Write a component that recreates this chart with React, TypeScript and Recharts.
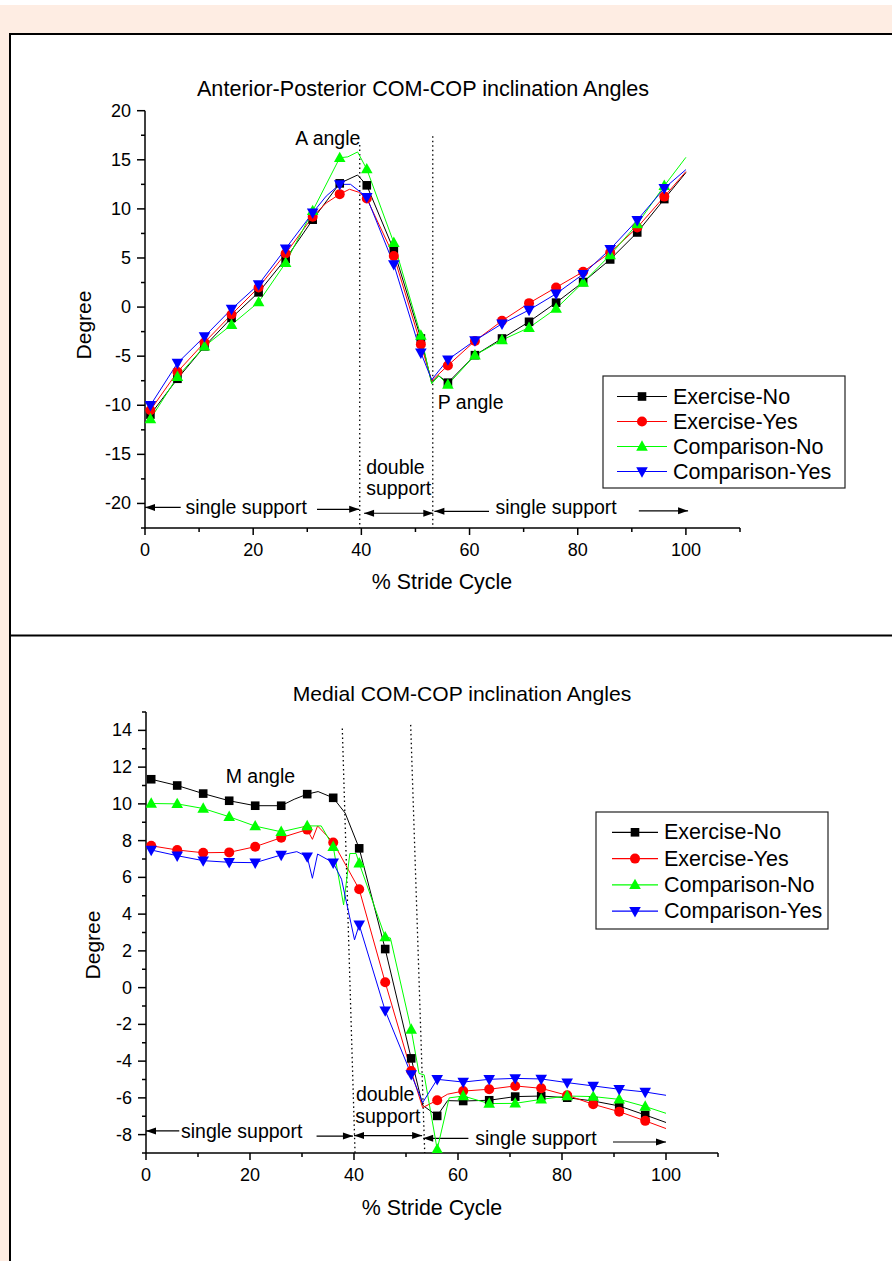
import React from 'react';
import { LineChart, Line, XAxis, YAxis, ReferenceLine, ReferenceDot } from 'recharts';

// ---------- shared ----------
const MARKER_X = [1, 6, 11, 16, 21, 26, 31, 36, 41, 46, 51, 56, 61, 66, 71, 76, 81, 86, 91, 96];
const SERIES_NAMES = ['Exercise-No', 'Exercise-Yes', 'Comparison-No', 'Comparison-Yes'];
const SERIES_COLORS = ['#000000', '#FF0000', '#00FF00', '#0000FF'];
const SERIES_SHAPES = ['square', 'circle', 'triangle', 'triangleDown'];
const X_TICKS = [0, 10, 20, 30, 40, 50, 60, 70, 80, 90, 100, 110];

// ---------- Anterior-Posterior chart ----------
const AP_TITLE = 'Anterior-Posterior COM-COP inclination Angles';
const AP_Y_TICKS = [-22.5, -20, -17.5, -15, -12.5, -10, -7.5, -5, -2.5, 0, 2.5, 5, 7.5, 10, 12.5, 15, 17.5, 20];
const apExerciseNo: [number, number][] = [
  [1, -10.95], [6, -7.3], [11, -4.0], [16, -1.1], [21, 1.5], [26, 4.9], [31, 8.9], [36, 12.6], [39.3, 13.45],
  [41, 12.4], [46, 5.8], [51, -3.2], [53, -7.7], [54.3, -7.0], [56, -7.7], [61, -4.9], [66, -3.2], [71, -1.5],
  [76, 0.45], [81, 2.55], [86, 4.85], [91, 7.6], [96, 11.0], [100, 13.7],
];
const apExerciseYes: [number, number][] = [
  [1, -10.5], [6, -6.6], [11, -3.6], [16, -0.75], [21, 2.0], [26, 5.45], [31, 9.2], [33.5, 10.6], [36, 11.5],
  [37.8, 12.0], [39.5, 11.7], [41, 11.05], [46, 5.2], [51, -3.8], [53, -7.5], [56, -5.95], [61, -3.45],
  [66, -1.4], [71, 0.4], [76, 2.0], [81, 3.6], [86, 5.55], [91, 8.1], [96, 11.25], [100, 13.8],
];
const apComparisonNo: [number, number][] = [
  [1, -11.4], [6, -7.1], [11, -4.0], [16, -1.8], [21, 0.5], [26, 4.5], [31, 9.8], [36, 15.2], [37.5, 15.3],
  [39.3, 15.8], [41, 14.05], [46, 6.55], [51, -2.9], [53, -7.8], [54.3, -7.0], [56, -7.9], [61, -4.9],
  [66, -3.35], [71, -2.1], [76, -0.15], [81, 2.5], [86, 5.3], [91, 8.45], [96, 12.35], [100, 15.25],
];
const apComparisonYes: [number, number][] = [
  [1, -10.0], [6, -5.7], [11, -3.0], [16, -0.2], [21, 2.3], [26, 5.95], [31, 9.6], [33.5, 11.3], [36, 12.5],
  [38, 12.5], [41, 11.2], [46, 4.35], [51, -4.65], [53, -7.4], [56, -5.35], [61, -3.4], [66, -1.7], [71, -0.3],
  [76, 1.35], [81, 3.35], [86, 5.9], [91, 8.85], [96, 12.1], [100, 14.0],
];
const AP_TEXTS: { x: number; y: number; text: string }[] = [
  { x: 33.8, y: 17.2, text: 'A angle' },
  { x: 60.2, y: -9.7, text: 'P angle' },
  { x: 46.3, y: -16.25, text: 'double' },
  { x: 46.9, y: -18.4, text: 'support' },
  { x: 18.7, y: -20.35, text: 'single support' },
  { x: 76, y: -20.4, text: 'single support' },
];
const AP_ARROWS: { x1: number; y1: number; x2: number; y2: number; both?: boolean }[] = [
  { x1: 6.6, y1: -20.4, x2: 0, y2: -20.4 },
  { x1: 31.8, y1: -20.6, x2: 39.6, y2: -20.6 },
  { x1: 40.5, y1: -21.0, x2: 53.3, y2: -21.0, both: true },
  { x1: 63.6, y1: -20.8, x2: 53.5, y2: -20.8 },
  { x1: 91.3, y1: -20.75, x2: 100.4, y2: -20.75 },
];
const AP_DOTTED: { x1: number; y1: number; x2: number; y2: number }[] = [
  { x1: 39.7, y1: 16.5, x2: 39.7, y2: -22.5 },
  { x1: 53.2, y1: 17.4, x2: 53.2, y2: -22.5 },
];

// ---------- Medial chart ----------
const ML_TITLE = 'Medial COM-COP inclination Angles';
const ML_Y_TICKS = [-9, -8, -7, -6, -5, -4, -3, -2, -1, 0, 1, 2, 3, 4, 5, 6, 7, 8, 9, 10, 11, 12, 13, 14, 15];
const mlExerciseNo: [number, number][] = [
  [1, 11.34], [6, 11.0], [11, 10.56], [16, 10.17], [21, 9.9], [26, 9.9], [28.5, 10.25], [31, 10.53], [33.1, 10.67],
  [36, 10.33], [38.3, 9.5], [41, 7.58], [46, 2.1], [51, -3.85], [53.2, -6.4], [56, -6.98], [58, -6.15], [61, -6.17],
  [66, -6.13], [71, -5.93], [76, -5.9], [81, -5.99], [86, -6.17], [91, -6.44], [96, -6.93], [100, -7.34],
];
const mlExerciseYes: [number, number][] = [
  [1, 7.72], [6, 7.49], [11, 7.34], [16, 7.36], [21, 7.67], [26, 8.16], [31, 8.6], [32, 8.07], [33, 8.8],
  [36, 7.9], [41, 5.35], [46, 0.29], [51, -4.54], [53.2, -6.53], [56, -6.13], [58, -5.8], [61, -5.63],
  [66, -5.53], [71, -5.35], [76, -5.48], [81, -5.86], [86, -6.35], [91, -6.75], [96, -7.25], [100, -7.67],
];
const mlComparisonNo: [number, number][] = [
  [1, 10.02], [6, 10.0], [11, 9.75], [16, 9.3], [21, 8.79], [26, 8.48], [31, 8.8], [33.7, 8.8], [36, 7.67],
  [38, 4.5], [39.2, 7.3], [40.4, 7.3], [41, 6.77], [46, 2.75], [47, 2.7], [51, -2.28], [52.5, -4.67],
  [53.5, -4.75], [56, -8.8], [58.3, -6.0], [61, -5.9], [66, -6.31], [71, -6.3], [76, -6.08], [81, -5.9],
  [86, -5.93], [91, -6.08], [96, -6.47], [100, -6.84],
];
const mlComparisonYes: [number, number][] = [
  [1, 7.49], [6, 7.18], [11, 6.91], [16, 6.82], [21, 6.8], [26, 7.22], [29, 7.4], [31, 7.13], [32, 5.95],
  [33, 7.27], [36, 6.8], [37.6, 5.9], [40.1, 2.6], [41, 3.42], [46, -1.25], [51, -4.72], [53.2, -6.26],
  [56, -4.99], [61, -5.14], [66, -4.99], [71, -4.94], [76, -4.97], [81, -5.17], [86, -5.35], [91, -5.53],
  [96, -5.68], [100, -5.86],
];
const ML_TEXTS: { x: number; y: number; text: string }[] = [
  { x: 22.0, y: 11.5, text: 'M angle' },
  { x: 46.0, y: -5.78, text: 'double' },
  { x: 46.5, y: -7.0, text: 'support' },
  { x: 18.4, y: -7.8, text: 'single support' },
  { x: 75, y: -8.2, text: 'single support' },
];
const ML_ARROWS: { x1: number; y1: number; x2: number; y2: number; both?: boolean }[] = [
  { x1: 6.4, y1: -7.8, x2: 0, y2: -7.8 },
  { x1: 32.8, y1: -8.08, x2: 39.8, y2: -8.08 },
  { x1: 40.0, y1: -8.05, x2: 53.1, y2: -8.05, both: true },
  { x1: 62, y1: -8.2, x2: 53.3, y2: -8.2 },
  { x1: 89.8, y1: -8.4, x2: 100, y2: -8.4 },
];
const ML_DOTTED: { x1: number; y1: number; x2: number; y2: number }[] = [
  { x1: 37.75, y1: 14.1, x2: 40.2, y2: -9 },
  { x1: 50.9, y1: 14.3, x2: 53.6, y2: -9 },
];

const FONT = "'Liberation Sans', Arial, Helvetica, sans-serif";

const toPoints = (pairs: [number, number][]) =>
  pairs.map(([x, y]) => ({ x, y, m: MARKER_X.includes(x) }));

function MarkerShape({ shape, color, cx, cy, s = 1 }: any) {
  if (shape === 'square') {
    const h = 4.3 * s;
    return <rect x={cx - h} y={cy - h} width={2 * h} height={2 * h} fill={color} />;
  }
  if (shape === 'circle') return <circle cx={cx} cy={cy} r={5 * s} fill={color} />;
  if (shape === 'triangle') {
    const w = 5.8 * s;
    return <polygon points={`${cx},${cy - 6.2 * s} ${cx - w},${cy + 4.2 * s} ${cx + w},${cy + 4.2 * s}`} fill={color} />;
  }
  const w = 5.8 * s;
  return <polygon points={`${cx},${cy + 6.2 * s} ${cx - w},${cy - 4.2 * s} ${cx + w},${cy - 4.2 * s}`} fill={color} />;
}

const makeDot = (shape: string, color: string) => (props: any) => {
  const { cx, cy, payload, index } = props;
  const key = `dot-${shape}-${index}`;
  if (!payload || !payload.m || cx == null || cy == null) return <g key={key} />;
  return (
    <g key={key}>
      <MarkerShape shape={shape} color={color} cx={cx} cy={cy} />
    </g>
  );
};

const makeYTick = (isMajor: (v: number) => boolean) => (props: any) => {
  const { x, y, payload } = props;
  const v = payload.value;
  const major = isMajor(v);
  return (
    <g>
      <line x1={x} y1={y} x2={x - (major ? 8 : 4)} y2={y} stroke="#000" strokeWidth={1.5} />
      {major && (
        <text x={x - 14} y={y} textAnchor="end" dominantBaseline="central" fontSize={18} fontFamily={FONT} fill="#000">
          {v}
        </text>
      )}
    </g>
  );
};

const XTick = (props: any) => {
  const { x, y, payload } = props;
  const v = payload.value;
  const major = v % 20 === 0;
  return (
    <g>
      <line x1={x} y1={y} x2={x} y2={y + (major ? 7 : 4)} stroke="#000" strokeWidth={1.5} />
      {major && v <= 100 && (
        <text x={x} y={y + 28} textAnchor="middle" fontSize={18} fontFamily={FONT} fill="#000">
          {v}
        </text>
      )}
    </g>
  );
};

const arrowShape = (both: boolean) => (p: any) => {
  const { x1, y1, x2, y2 } = p;
  if (x1 == null) return <g />;
  const head = (tx: number, ty: number, fx: number, fy: number) => {
    const dx = tx - fx;
    const dy = ty - fy;
    const len = Math.sqrt(dx * dx + dy * dy) || 1;
    const ux = dx / len;
    const uy = dy / len;
    const L = 10;
    const W = 3.5;
    const bx = tx - ux * L;
    const by = ty - uy * L;
    return <polygon points={`${tx},${ty} ${bx - uy * W},${by + ux * W} ${bx + uy * W},${by - ux * W}`} fill="#000" />;
  };
  return (
    <g>
      <line x1={x1} y1={y1} x2={x2} y2={y2} stroke="#000" strokeWidth={1.2} />
      {head(x2, y2, x1, y1)}
      {both && head(x1, y1, x2, y2)}
    </g>
  );
};

const textShape = (text: string) => (p: any) => (
  <text x={p.cx} y={p.cy} textAnchor="middle" dominantBaseline="central" fontSize={19.5} fontFamily={FONT} fill="#000">
    {text}
  </text>
);

function Panel({
  series, yDomain, yTicks, isMajor, texts, arrows, dotted, width, height, margin, curve,
}: any) {
  return (
    <LineChart width={width} height={height} margin={margin}>
      <XAxis
        dataKey="x"
        type="number"
        domain={[0, 110]}
        ticks={X_TICKS}
        interval={0}
        tickSize={0}
        tickMargin={0}
        height={30}
        tick={XTick}
        axisLine={{ stroke: '#000', strokeWidth: 1.5 }}
        tickLine={false}
        allowDataOverflow
      />
      <YAxis
        type="number"
        domain={yDomain}
        ticks={yTicks}
        interval={0}
        tickSize={0}
        tickMargin={0}
        width={60}
        tick={makeYTick(isMajor)}
        axisLine={{ stroke: '#000', strokeWidth: 1.5 }}
        tickLine={false}
        allowDataOverflow
      />
      {dotted.map((d: any, i: number) => (
        <ReferenceLine
          key={`dot-line-${i}`}
          segment={[{ x: d.x1, y: d.y1 }, { x: d.x2, y: d.y2 }]}
          stroke="#000"
          strokeWidth={1.3}
          strokeDasharray="1.5 3"
          ifOverflow="visible"
        />
      ))}
      {arrows.map((a: any, i: number) => (
        <ReferenceLine
          key={`arrow-${i}`}
          segment={[{ x: a.x1, y: a.y1 }, { x: a.x2, y: a.y2 }]}
          ifOverflow="visible"
          shape={arrowShape(!!a.both)}
        />
      ))}
      {texts.map((t: any, i: number) => (
        <ReferenceDot key={`txt-${i}`} x={t.x} y={t.y} r={0} ifOverflow="visible" shape={textShape(t.text)} />
      ))}
      {series.map((s: [number, number][], i: number) => (
        <Line
          key={SERIES_NAMES[i]}
          data={toPoints(s)}
          dataKey="y"
          name={SERIES_NAMES[i]}
          type={curve}
          stroke={SERIES_COLORS[i]}
          strokeWidth={1}
          dot={makeDot(SERIES_SHAPES[i], SERIES_COLORS[i])}
          activeDot={false}
          isAnimationActive={false}
        />
      ))}
    </LineChart>
  );
}

function LegendBox({ left, top, width, height, rowGap, firstRow, lineX1, lineX2, markerX, textX }: any) {
  return (
    <g>
      <rect x={left} y={top} width={width} height={height} fill="#fff" stroke="#222" strokeWidth={1.2} />
      {SERIES_NAMES.map((n, i) => {
        const cy = firstRow + i * rowGap;
        return (
          <g key={n}>
            <line x1={lineX1} y1={cy} x2={lineX2} y2={cy} stroke={SERIES_COLORS[i]} strokeWidth={1.2} />
            <MarkerShape shape={SERIES_SHAPES[i]} color={SERIES_COLORS[i]} cx={markerX} cy={cy} />
            <text x={textX} y={cy} dominantBaseline="central" fontSize={21.5} fontFamily={FONT} fill="#000">
              {n}
            </text>
          </g>
        );
      })}
    </g>
  );
}

export default function App() {
  const W = 892;
  const H = 1261;
  const pink = '#FEEDE3';
  return (
    <div style={{ position: 'absolute', left: 0, top: 0, width: W, height: H, background: '#fff', overflow: 'hidden' }}>
      <svg width={W} height={H} style={{ position: 'absolute', left: 0, top: 0 }}>
        <rect x={0} y={5} width={W} height={29} fill={pink} />
        <rect x={0} y={5} width={9} height={H - 5} fill={pink} />
        <line x1={9} y1={34} x2={W} y2={34} stroke="#000" strokeWidth={2} />
        <line x1={10} y1={34} x2={10} y2={H} stroke="#000" strokeWidth={2} />
        <line x1={9} y1={635.5} x2={W} y2={635.5} stroke="#000" strokeWidth={2} />
      </svg>
      <div style={{ position: 'absolute', left: 0, top: 0 }}>
        <Panel
          series={[apExerciseNo, apExerciseYes, apComparisonNo, apComparisonYes]}
          yDomain={[-22.5, 20]}
          yTicks={AP_Y_TICKS}
          isMajor={(v: number) => v % 5 === 0}
          texts={AP_TEXTS}
          arrows={AP_ARROWS}
          dotted={AP_DOTTED}
          width={W}
          height={630}
          margin={{ top: 110.7, right: 152, bottom: 72, left: 85 }}
          curve="linear"
        />
      </div>
      <div style={{ position: 'absolute', left: 0, top: 640 }}>
        <Panel
          series={[mlExerciseNo, mlExerciseYes, mlComparisonNo, mlComparisonYes]}
          yDomain={[-9, 15]}
          yTicks={ML_Y_TICKS}
          isMajor={(v: number) => v % 2 === 0}
          texts={ML_TEXTS}
          arrows={ML_ARROWS}
          dotted={ML_DOTTED}
          width={W}
          height={600}
          margin={{ top: 72, right: 174, bottom: 57, left: 86 }}
          curve="linear"
        />
      </div>
      <svg width={W} height={H} style={{ position: 'absolute', left: 0, top: 0, pointerEvents: 'none' }}>
        <text x={423} y={88} textAnchor="middle" dominantBaseline="central" fontSize={21.6} fontFamily={FONT}>
          {AP_TITLE}
        </text>
        <text x={0} y={0} transform="translate(83,325) rotate(-90)" textAnchor="middle" dominantBaseline="central" fontSize={21} fontFamily={FONT}>
          Degree
        </text>
        <text x={442} y={582} textAnchor="middle" dominantBaseline="central" fontSize={21.4} fontFamily={FONT}>
          % Stride Cycle
        </text>
        <LegendBox left={603} top={376} width={242} height={112} rowGap={25} firstRow={396.5} lineX1={617} lineX2={667} markerX={642} textX={673} />

        <text x={462} y={693} textAnchor="middle" dominantBaseline="central" fontSize={21.1} fontFamily={FONT}>
          {ML_TITLE}
        </text>
        <text x={0} y={0} transform="translate(92,945) rotate(-90)" textAnchor="middle" dominantBaseline="central" fontSize={21} fontFamily={FONT}>
          Degree
        </text>
        <text x={432} y={1208} textAnchor="middle" dominantBaseline="central" fontSize={21.4} fontFamily={FONT}>
          % Stride Cycle
        </text>
        <LegendBox left={596} top={812} width={232} height={117} rowGap={26.3} firstRow={832.3} lineX1={612} lineX2={658} markerX={635} textX={664} />
      </svg>
    </div>
  );
}
